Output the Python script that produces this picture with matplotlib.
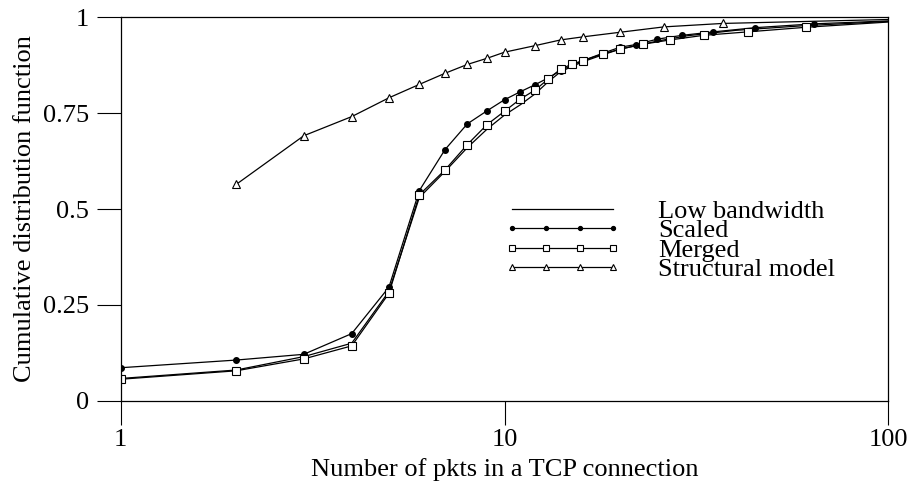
import matplotlib
matplotlib.use('Agg')
import matplotlib.pyplot as plt
from matplotlib.ticker import FixedLocator, NullLocator, FixedFormatter

plt.rcParams['font.family'] = ['Liberation Serif', 'DejaVu Serif']
plt.rcParams['font.size'] = 19

# data (points past 100 only carry the lines to the edge)
x_low = [1, 2, 3, 4, 5, 6, 7, 8, 9, 10, 11, 12, 13, 14, 15, 16, 18, 20, 25, 30, 40, 60, 130]
y_low = [0.058, 0.080, 0.115, 0.150, 0.285, 0.530, 0.598, 0.660, 0.708, 0.745, 0.772, 0.800,
         0.832, 0.858, 0.872, 0.884, 0.902, 0.917, 0.938, 0.952, 0.966, 0.978, 0.995]

x_scaled = [1, 2, 3, 4, 5, 6, 7, 8, 9, 10, 11, 12, 13, 14, 15, 16, 18, 20, 22, 25, 29, 35, 45, 64, 130]
y_scaled = [0.086, 0.106, 0.121, 0.175, 0.296, 0.548, 0.655, 0.722, 0.756, 0.785, 0.806, 0.824,
            0.842, 0.861, 0.875, 0.887, 0.906, 0.922, 0.929, 0.943, 0.953, 0.962, 0.973, 0.983, 0.995]

x_merged = [1, 2, 3, 4, 5, 6, 7, 8, 9, 10, 11, 12, 13, 14, 15, 16, 18, 20, 23, 27, 33, 43, 61, 130]
y_merged = [0.056, 0.078, 0.109, 0.143, 0.280, 0.537, 0.602, 0.668, 0.720, 0.755, 0.787, 0.810,
            0.839, 0.865, 0.878, 0.887, 0.904, 0.917, 0.930, 0.941, 0.953, 0.962, 0.974, 0.995]

x_struct = [2, 3, 4, 5, 6, 7, 8, 9, 10, 12, 14, 16, 20, 26, 37, 130]
y_struct = [0.564, 0.691, 0.741, 0.790, 0.825, 0.854, 0.877, 0.893, 0.909, 0.926, 0.941, 0.949,
            0.961, 0.975, 0.984, 0.997]

xticks = [1, 10, 100]
xtick_labels = ['1', '10', '100']
yticks = [0, 0.25, 0.5, 0.75, 1]
ytick_labels = ['0', '0.25', '0.5', '0.75', '1']

fig = plt.figure(figsize=(9.11, 4.93), dpi=100)
ax = fig.add_axes([0.1323, 0.1872, 0.8430, 0.7777])

lw = 0.9
ax.plot(x_low, y_low, color='k', lw=lw, label='Low bandwidth')
ax.plot(x_scaled, y_scaled, color='k', lw=lw, marker='o', ms=4, label='Scaled')
ax.plot(x_merged, y_merged, color='k', lw=lw, marker='s', ms=5.5, mfc='white', mec='k', mew=0.8,
        label='Merged')
ax.plot(x_struct, y_struct, color='k', lw=lw, marker='^', ms=6, mfc='white', mec='k', mew=0.8,
        label='Structural model')

ax.set_xscale('log')
ax.set_xlim(1, 100)
ax.set_ylim(0, 1)
ax.xaxis.set_major_locator(FixedLocator(xticks))
ax.xaxis.set_major_formatter(FixedFormatter(xtick_labels))
ax.xaxis.set_minor_locator(NullLocator())
ax.set_yticks(yticks)
ax.set_yticklabels(ytick_labels)
ax.tick_params(direction='out', length=17.5, width=0.8, color='k')
ax.tick_params(axis='y', pad=5)
ax.tick_params(axis='x', pad=3)
for s in ax.spines.values():
    s.set_linewidth(0.9)

ax.set_xlabel('Number of pkts in a TCP connection')
ax.set_ylabel('Cumulative distribution function')
ax.xaxis.set_label_coords(0.5, -0.15)
ax.yaxis.set_label_coords(-0.11, 0.5)

leg = ax.legend(loc='upper left', bbox_to_anchor=(0.4993, 0.525), frameon=False, numpoints=4,
                handlelength=4.45, handletextpad=1.4, labelspacing=-0.15, borderpad=0,
                borderaxespad=0, markerscale=0.7)

fig.savefig('out.png', dpi=100)
